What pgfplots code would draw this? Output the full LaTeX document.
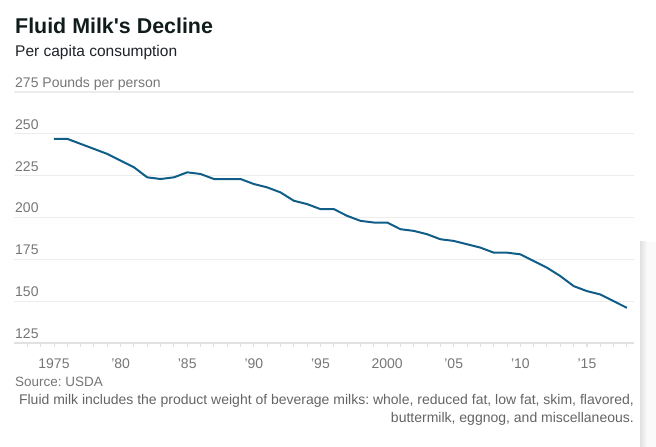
\documentclass[border=0pt]{standalone}
\usepackage{fontspec}
\setmainfont{Liberation Sans}
\usepackage{pgfplots}
\pgfplotsset{compat=1.18}
\frenchspacing
\definecolor{milk}{RGB}{16,94,136}
\definecolor{titlec}{RGB}{16,28,28}
\definecolor{subc}{RGB}{30,34,40}
\definecolor{tickc}{RGB}{118,118,118}
\definecolor{notec}{RGB}{100,100,100}
\definecolor{gridc}{RGB}{236,236,236}
\definecolor{axisc}{RGB}{225,225,225}
\begin{document}
\frenchspacing
\begin{tikzpicture}[x=1pt,y=1pt]
\path[use as bounding box] (0,0) rectangle (656,447);
\shade[left color=black!12, right color=black!2] (640,0) rectangle (647,205);
\fill[black!2] (647,0) rectangle (656,205);
\begin{axis}[
  at={(14pt,104pt)}, anchor=south west,
  scale only axis, width=620pt, height=251pt,
  xmin=1972.0, xmax=2018.53, ymin=125, ymax=275,
  axis lines*=left,
  y axis line style={draw=none},
  x axis line style={draw=axisc, line width=1.5pt},
  ymajorgrids, grid style={draw=gridc, line width=1.3pt},
  ytick={125,150,175,200,225,250,275},
  yticklabels={125,150,175,200,225,250,275 Pounds per person},
  ytick style={draw=none},
  yticklabel style={anchor=base west, inner sep=0pt, xshift=5pt, yshift=4.5pt, font=\fontsize{14}{16}\selectfont, text=tickc},
  xtick={1975,1980,1985,1990,1995,2000,2005,2010,2015},
  xticklabels={1975,’80,’85,’90,’95,2000,’05,’10,’15},
  minor xtick={1973,...,2018},
  tick align=outside,
  major tick length=4pt, minor tick length=4pt,
  xtick style={draw=axisc, line width=0.9pt},
  xticklabel style={anchor=base, inner sep=0pt, yshift=-22pt, font=\fontsize{14}{16}\selectfont, text=tickc},
  clip=false,
]
\addplot[milk, line width=2pt] coordinates {
(1975,247)(1976,247)(1977,244)(1978,241)(1979,238)(1980,234)(1981,230)(1982,224)
(1983,223)(1984,224)(1985,227)(1986,226)(1987,223)(1988,223)(1989,223)(1990,220)
(1991,218)(1992,215)(1993,210)(1994,208)(1995,205)(1996,205)(1997,201)(1998,198)
(1999,197)(2000,197)(2001,193)(2002,192)(2003,190)(2004,187)(2005,186)(2006,184)
(2007,182)(2008,179)(2009,179)(2010,178)(2011,174)(2012,170)(2013,165)(2014,159)
(2015,156)(2016,154)(2017,150)(2018,146)};
\end{axis}
\node[anchor=base west, inner sep=0pt, font=\fontsize{21.4}{24}\selectfont\bfseries, text=titlec] at (15,413) {Fluid Milk\textquotesingle s Decline};
\node[anchor=base west, inner sep=0pt, font=\fontsize{15.5}{18}\selectfont, text=subc] at (15,390) {Per capita consumption};
\node[anchor=base west, inner sep=0pt, font=\fontsize{13.5}{16}\selectfont, text=tickc] at (15,60) {Source: USDA};
\node[anchor=base east, inner sep=0pt, font=\fontsize{14}{16}\selectfont, text=notec] at (634,42) {Fluid milk includes the product weight of beverage milks: whole, reduced fat, low fat, skim, flavored,};
\node[anchor=base east, inner sep=0pt, font=\fontsize{14}{16}\selectfont, text=notec] at (634,24) {buttermilk, eggnog, and miscellaneous.};
\end{tikzpicture}
\end{document}
